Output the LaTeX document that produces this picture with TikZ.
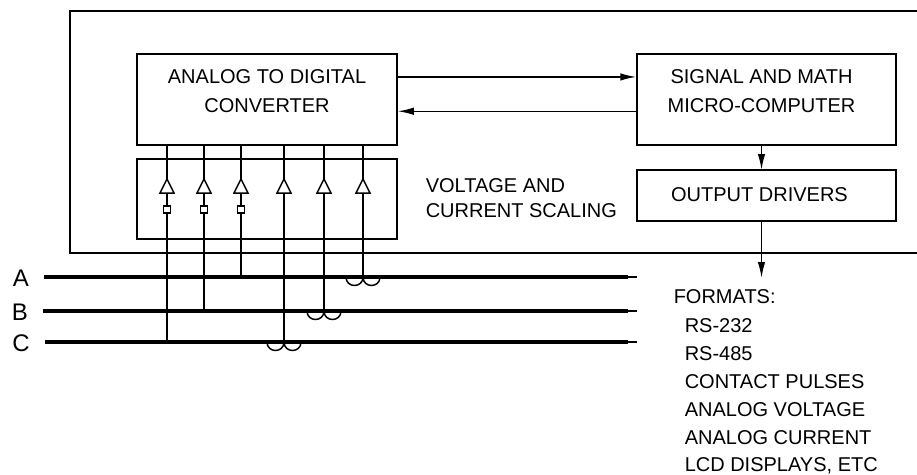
\documentclass[tikz,border=0pt]{standalone}
\usepackage{fontspec}
\setmainfont{Liberation Sans}
\usetikzlibrary{arrows.meta,calc}
\begin{document}
\begin{tikzpicture}[x=1pt,y=-1pt,line width=1.5pt,
  blk/.style={draw,inner sep=0pt},
  lbl/.style={font=\fontsize{20}{29}\selectfont,align=center,inner sep=0pt},
  txt/.style={font=\fontsize{20}{25}\selectfont,inner sep=0pt},
  big/.style={font=\fontsize{24}{24}\selectfont,inner sep=0pt},
  arr/.style={-{Latex[length=16pt,width=7.5pt]}},
  phase/.style={line width=3.3pt},
  tail/.style={line width=1.2pt},
  sqbox/.style={draw,minimum size=7pt,inner sep=0pt,line width=1.2pt},
  ctcoil/.style={line width=1.5pt}]
\useasboundingbox (0,0) rectangle (917,474);
% outer housing
\coordinate (h1) at (917,11);
\coordinate (h2) at (70,11);
\coordinate (h3) at (70,253);
\coordinate (h4) at (917,253);
\draw (h1) -- (h2) -- (h3) -- (h4);
% blocks
\node[blk,minimum width=260pt,minimum height=91pt] (adc) at (267,99.5) {};
\node[lbl] (adct) at (267,91.2) {ANALOG TO DIGITAL\\CONVERTER};
\node[blk,minimum width=259pt,minimum height=91pt] (smc) at (766.5,99.5) {};
\node[lbl] (smct) at (761.5,90.7) {SIGNAL AND MATH\\MICRO-COMPUTER};
\node[blk,minimum width=259pt,minimum height=51pt] (od) at (766.5,195.5) {};
\node[lbl] (odt) at (759.5,194.7) {OUTPUT DRIVERS};
\node[blk,minimum width=260pt,minimum height=80pt] (scal) at (267,199) {};
\node[txt,align=left,anchor=west] (scalt) at (425,198) {VOLTAGE AND\\CURRENT SCALING};
% data arrows
\draw[arr] ([yshift=-23.7pt]adc.north east) -- ([yshift=-23.7pt]adc.north east -| smc.west);
\draw[arr] ([yshift=-58pt]smc.north west) -- ([yshift=-58pt]smc.north west -| adc.east);
\coordinate (v1) at (761.5,145);
\coordinate (v2) at (761.5,170);
\coordinate (v3) at (761.5,221);
\coordinate (v4) at (761.5,278);
\draw[arr] (v1) -- (v2);
\draw[arr] (v3) -- (v4);
% phase lines
\node[big] (lA) at (21,278) {A};
\node[big] (lB) at (20,312) {B};
\node[big] (lC) at (21,343) {C};
\coordinate (A0) at (44,277);  \coordinate (A1) at (628,277); \coordinate (A2) at (637,277);
\coordinate (B0) at (43,311);  \coordinate (B1) at (628,311); \coordinate (B2) at (637,311);
\coordinate (C0) at (45,342);  \coordinate (C1) at (628,342); \coordinate (C2) at (637,342);
\draw[phase] (A0) -- (A1); \draw[tail] (A1) -- (A2);
\draw[phase] (B0) -- (B1); \draw[tail] (B1) -- (B2);
\draw[phase] (C0) -- (C1); \draw[tail] (C1) -- (C2);
% scaling amplifiers
\foreach \n/\x in {1/167,2/204,3/241,4/284,5/324,6/363} {
  \coordinate (ap\n) at (\x,179);
  \coordinate (bs\n) at (\x,193);
  \draw[line join=miter] (\x-7,193) -- (ap\n) -- (\x+7,193) -- cycle;
  \draw (adc.south -| ap\n) -- (ap\n);
}
\foreach \n in {1,2,3} {
  \node[sqbox] (sq\n) at ($(bs\n)+(0,16.5)$) {};
  \draw (bs\n) -- (sq\n.north);
}
% voltage taps
\draw (sq1.south) -- (sq1.south |- C0);
\draw (sq2.south) -- (sq2.south |- B0);
\draw (sq3.south) -- (sq3.south |- A0);
% current transformers
\coordinate (ct4) at (bs4 |- C0);
\coordinate (ct5) at (bs5 |- B0);
\coordinate (ct6) at (bs6 |- A0);
\foreach \n in {4,5,6} {
  \draw (bs\n) -- (ct\n);
  \draw[ctcoil] ($(ct\n)+(-17,0)$) .. controls +(0,11.3) and +(0,11.3) .. (ct\n)
     .. controls +(0,11.3) and +(0,11.3) .. ($(ct\n)+(17,0)$);
}
% formats list
\node[txt,anchor=base west] (f0) at (673,303.5) {FORMATS:};
\node[txt,anchor=base west] (f1) at (684,332) {RS-232};
\node[txt,anchor=base west] (f2) at (684,360.2) {RS-485};
\node[txt,anchor=base west] (f3) at (684,388.4) {CONTACT PULSES};
\node[txt,anchor=base west] (f4) at (684,416.6) {ANALOG VOLTAGE};
\node[txt,anchor=base west] (f5) at (684,444.8) {ANALOG CURRENT};
\node[txt,anchor=base west] (f6) at (684,471.5) {LCD DISPLAYS, ETC};
\end{tikzpicture}
\end{document}
